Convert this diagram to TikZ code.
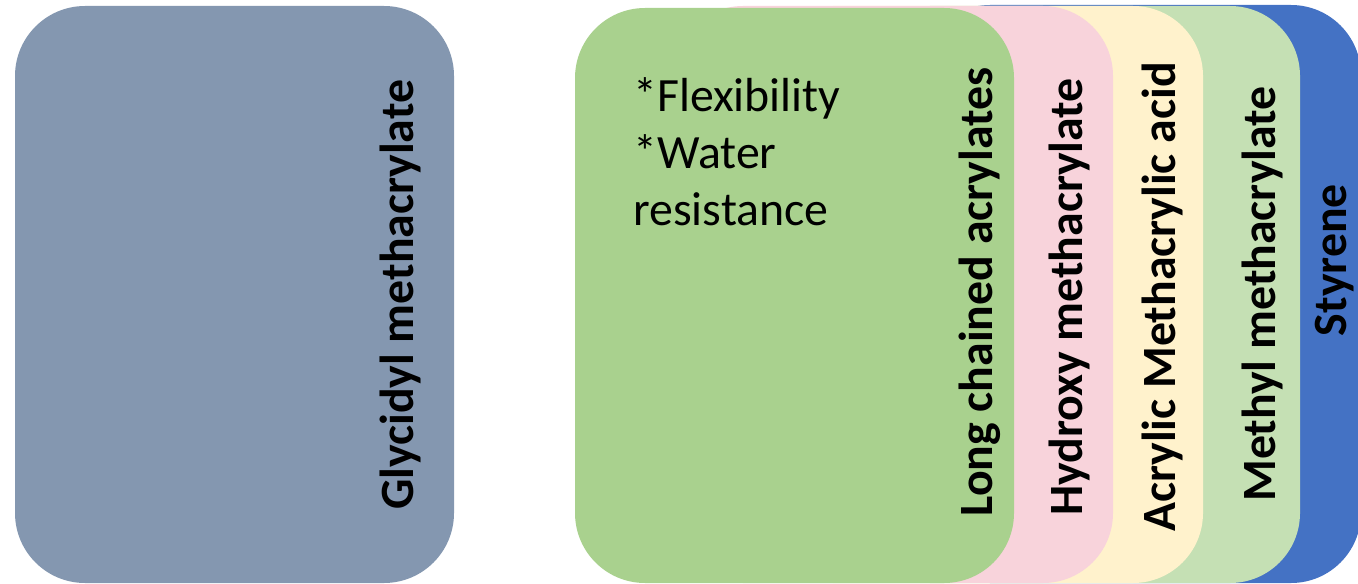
\documentclass[tikz,border=0pt]{standalone}
\usepackage{fontspec}
\setmainfont{Carlito}

\definecolor{glycidyl}{HTML}{8497B0}
\definecolor{longchain}{HTML}{A9D18E}
\definecolor{hydroxy}{HTML}{F8D3DB}
\definecolor{acrylic}{HTML}{FFF2CC}
\definecolor{methyl}{HTML}{C5E0B4}
\definecolor{styrene}{HTML}{4472C4}

\begin{document}
\begin{tikzpicture}[
		x=0.02cm, y=-0.02cm,
		box/.style={rounded corners=1.4cm},
		lbl/.style={rotate=90, anchor=base, inner sep=0pt, font=\fontsize{27.2}{32}\selectfont\bfseries},
		]
		\clip (0,0) rectangle (1358,584);
		
		%left box
		\fill[box, glycidyl] (15,6) rectangle (454,583);
		\node[lbl] (gma) at (413,295) {Glycidyl methacrylate};
		
		%stack, back to front
		\fill[box, styrene] (920,5) rectangle (1361,583);
		\fill[box, methyl] (860,6) rectangle (1300,583);
		\fill[box, acrylic] (763,6) rectangle (1203,583);
		\fill[box, hydroxy] (673,6) rectangle (1113,583);
		\fill[box, longchain] (575,8) rectangle (1014,583);
		
		%labels
		\node[lbl] (sty) at (1346,260) {Styrene};
		\node[lbl] (mma) at (1275,294) {Methyl methacrylate};
		\node[lbl] (maa) at (1175,297) {Acrylic Methacrylic acid};
		\node[lbl] (hma) at (1082,297) {Hydroxy methacrylate};
		\node[lbl] (lca) at (992,292) {Long chained acrylates};
		
		%properties
		\node[anchor=north west, inner sep=0pt, align=left, font=\fontsize{27.2}{32.4}\selectfont] (props) at (633,77)
			{*Flexibility\\*Water\\resistance};
	\end{tikzpicture}
\end{document}
